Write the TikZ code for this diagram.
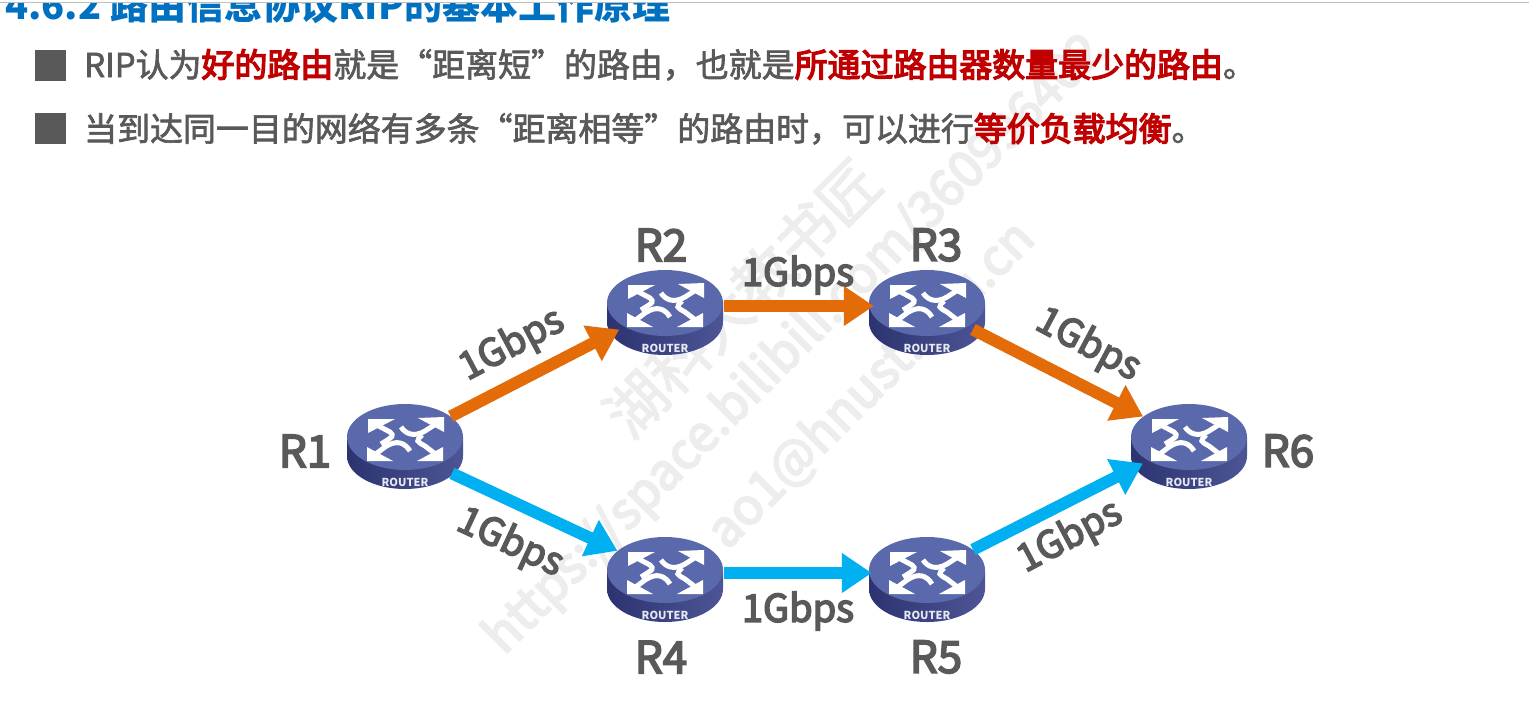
\documentclass[tikz,border=0pt]{standalone}
\usepackage{fontspec}
\setmainfont{Noto Sans CJK SC}
\newfontfamily\medfont[FakeBold=2]{Noto Sans CJK SC}
\newfontfamily\heavyfont[FakeBold=4]{Noto Sans CJK SC}
\usetikzlibrary{arrows.meta,positioning,shapes.geometric}
\definecolor{Ink}{HTML}{595959}
\definecolor{Title}{HTML}{0070C0}
\definecolor{Alert}{HTML}{C00000}
\definecolor{Good}{HTML}{E36C09}
\definecolor{Other}{HTML}{00B0F0}
\definecolor{Face}{HTML}{5A69AB}
\definecolor{SideDark}{HTML}{2C3370}
\definecolor{SideLight}{HTML}{4D5596}
\definecolor{Stamp}{HTML}{EDEDED}
\newcommand{\redtext}[1]{\textcolor{Alert}{\heavyfont #1}}
\tikzset{router/.style={ellipse,minimum width=118pt,minimum height=74pt,inner sep=0pt},
  bullet/.style={fill=Ink,minimum width=31pt,minimum height=31pt,inner sep=0pt},
  linetext/.style={anchor=base west,inner sep=0pt,text=Ink,font=\medfont\fontsize{32.95}{36}\selectfont},
  rlabel/.style={text=Ink,inner sep=0pt,font=\heavyfont\fontsize{44}{48}\selectfont},
  speed/.style={text=Ink,inner sep=0pt,font=\heavyfont\fontsize{38}{42}\selectfont},
  stamptext/.style={text=Stamp,inner sep=0pt,rotate=45},
  edge/.style={-{Triangle[length=30pt,width=38pt]},line width=12pt},
  goodedge/.style={edge,draw=Good},
  otheredge/.style={edge,draw=Other}}

\begin{document}
\begin{tikzpicture}[x=1pt,y=-1pt,on grid]
    \useasboundingbox[fill=white] (0,0) rectangle (1529,723);
    \node[anchor=base west,inner sep=0pt,text=Title,font=\bfseries\fontsize{38}{42}\selectfont] (title) at (5,19) {4.6.2 路由信息协议RIP的基本工作原理};
    \fill[white] (0,0) rectangle (1529,3);
    \draw[gray!50,line width=1pt] (0,2.5) -- (1529,2.5);

    \node[stamptext,font=\medfont\fontsize{60}{64}\selectfont] (stamp1) at (742,298) {湖科大教书匠};
    \node[stamptext,font=\heavyfont\fontsize{50}{54}\selectfont] (stamp2) at (795,345) {https://space.bilibili.com/360996402};
    \node[stamptext,font=\heavyfont\fontsize{50}{54}\selectfont] (stamp3) at (871,385) {ao1@hnust.edu.cn};

    \node[bullet] (b1) at (50.5,65) {};
    \node[bullet] (b2) at (50.5,128) {};
    \node[linetext] (line1) at (84,77) {RIP认为\redtext{好的路由}就是“距离短”的路由，也就是\redtext{所通过路由器数量最少的路由}。};
    \node[linetext] (line2) at (84,141) {当到达同一目的网络有多条“距离相等”的路由时，可以进行\redtext{等价负载均衡}。};

    \node[router] (R1) at (405,440) {};
    \node[router,above right=134pt and 260pt of R1] (R2) {};
    \node[router,right=262pt of R2] (R3) {};
    \node[router,below right=133pt and 260pt of R1] (R4) {};
    \node[router,right=262pt of R4] (R5) {};
    \node[router,below right=134pt and 262pt of R3] (R6) {};

    \foreach \rname in {R1,R2,R3,R4,R5,R6} {
      \begin{scope}[shift={(\rname)},yshift=3pt]
        \shade[left color=SideDark,right color=SideLight] (-58,0) -- (-58,19) arc[x radius=58,y radius=-33,start angle=180,end angle=360] -- (58,0) -- cycle;
        \fill[Face] (0,0) ellipse[x radius=58,y radius=33];
        \fill[white] (-37,-18) -- (-10,-18) -- (-37,-4) -- cycle;
        \fill[white] (39,-20) -- (13,-19) -- (39,-5) -- cycle;
        \fill[white] (-38,24) -- (-12,24) -- (-38,10) -- cycle;
        \fill[white] (38,24) -- (12,24) -- (38,10) -- cycle;
        \draw[white,line width=5pt] (-32,-14) -- (-15,-5) .. controls (-11,-1) .. (-24,7);
        \draw[white,line width=5pt] (34,-15) -- (20,-6) .. controls (8,1) and (0,-4) .. (-4,-10);
        \draw[white,line width=5pt] (-32,19) -- (-20,10) .. controls (-8,2) and (0,6) .. (5,14);
        \draw[white,line width=5pt] (33,19) -- (20,9) .. controls (11,4) .. (17,-2);
        \node[text=white!85!Face,inner sep=0pt,font=\bfseries\fontsize{11}{12}\selectfont] (tag\rname) at (0,45) {ROUTER};
      \end{scope}
    }

    \node[rlabel,left=100pt of R1,yshift=-11pt] (lab1) {R1};
    \node[rlabel,above=61pt of R2,xshift=-4pt] (lab2) {R2};
    \node[rlabel,above=61pt of R3,xshift=9pt] (lab3) {R3};
    \node[rlabel,below=84pt of R4,xshift=-4pt] (lab4) {R4};
    \node[rlabel,below=84pt of R5,xshift=9pt] (lab5) {R5};
    \node[rlabel,right=99pt of R6,yshift=-11pt] (lab6) {R6};

    \node[speed,rotate=28] (s12) at (512,345) {1Gbps};
    \node[speed] (s23) at (798,275) {1Gbps};
    \node[speed,rotate=-28] (s36) at (1088,345) {1Gbps};
    \node[speed,rotate=-25] (s14) at (510,543) {1Gbps};
    \node[speed] (s45) at (798,611) {1Gbps};
    \node[speed,rotate=28] (s56) at (1070,537) {1Gbps};

    \draw[goodedge] (R1)--(R2); \draw[goodedge,shorten >=-6pt] (R2)--(R3); \draw[goodedge] (R3)--(R6);
    \draw[otheredge] ([shift={(5,7)}]R1.south east)--(R4); \draw[otheredge,shorten >=-4pt] (R4)--(R5); \draw[otheredge] (R5)--(R6);
\end{tikzpicture}
\end{document}
